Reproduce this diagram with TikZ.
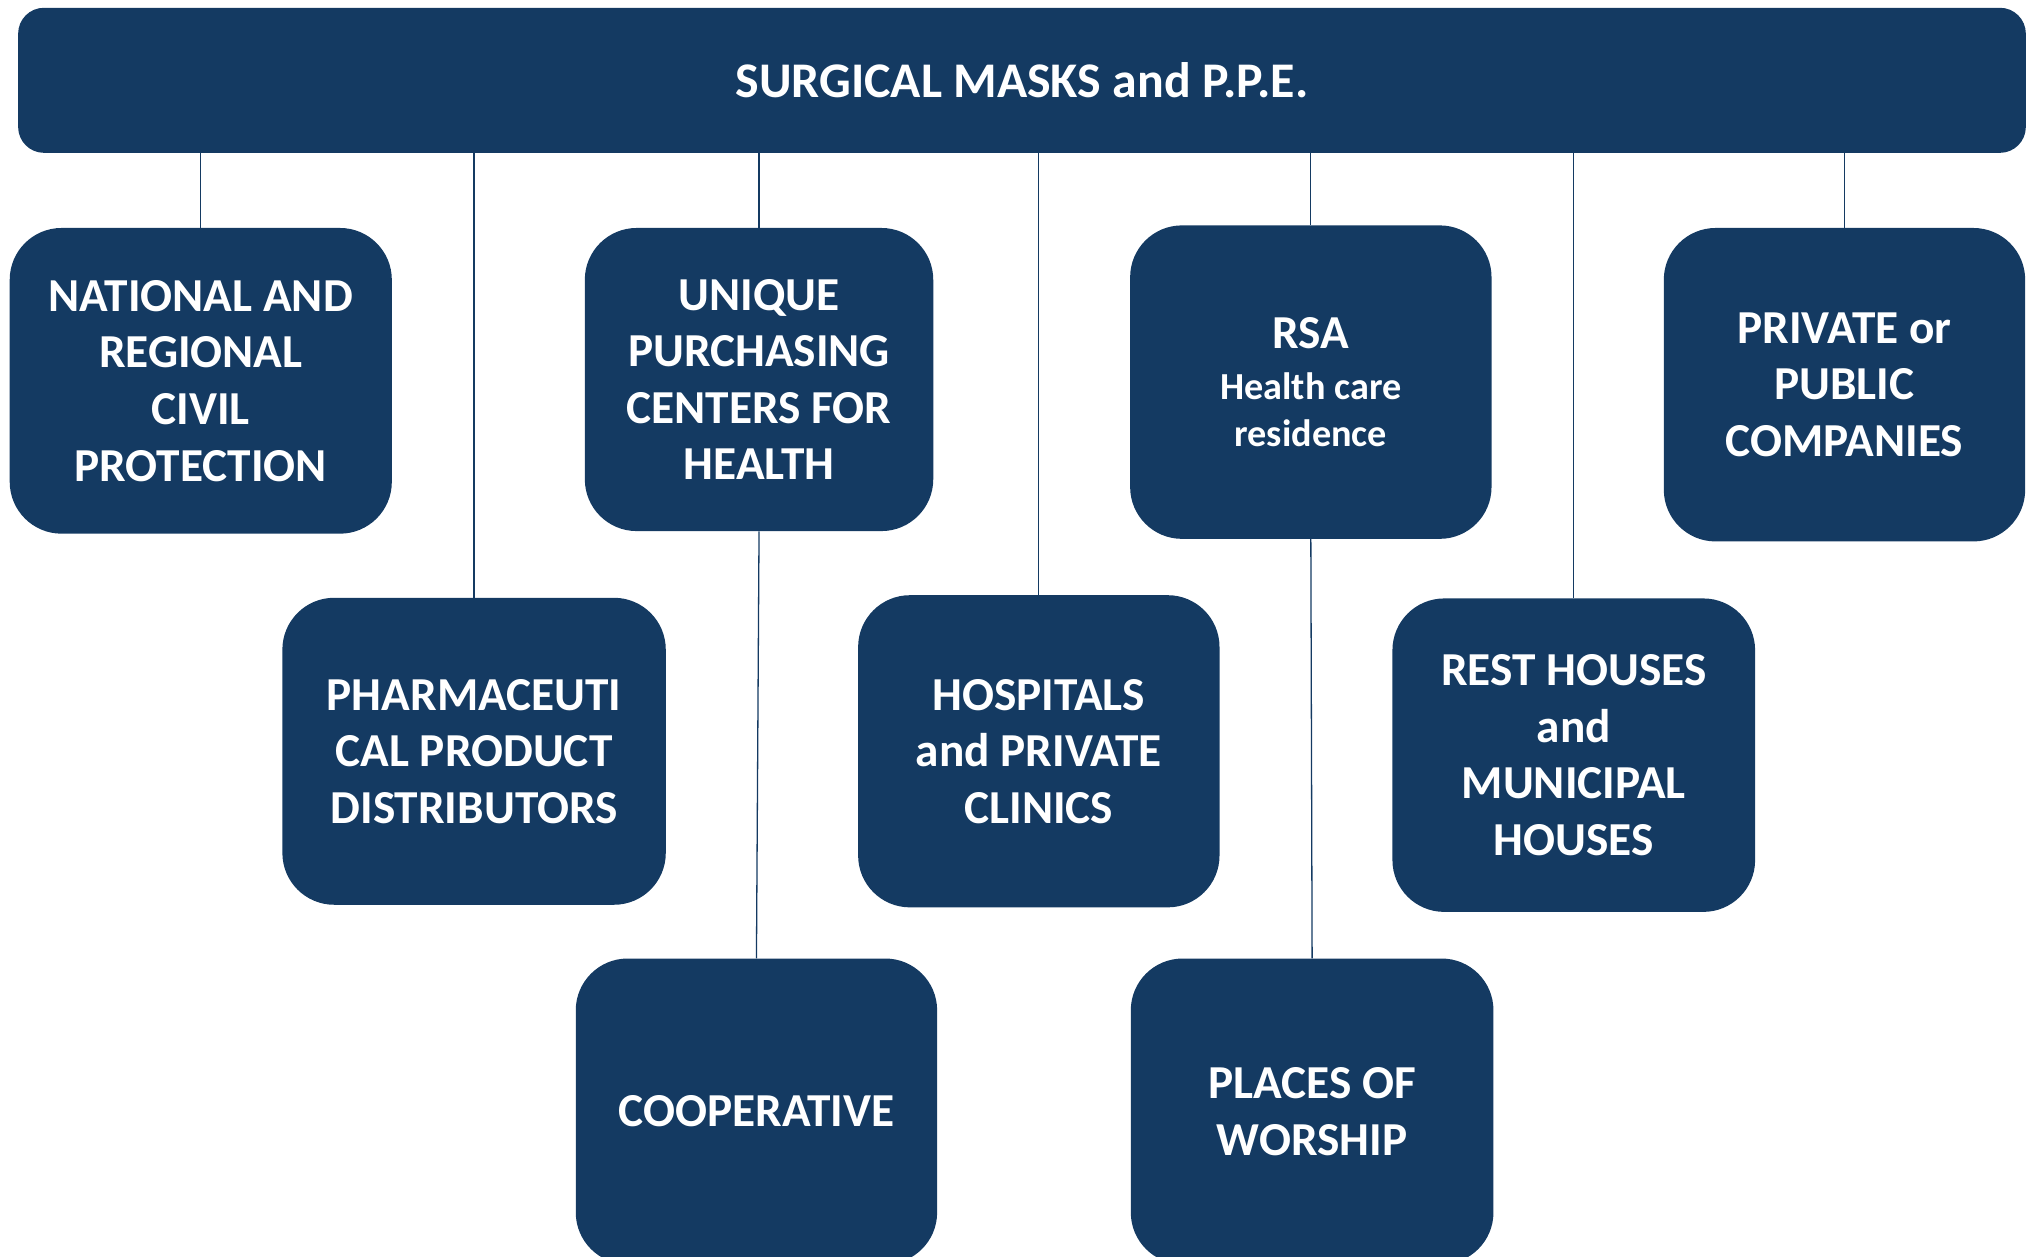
\documentclass[tikz,border=0pt]{standalone}
\usepackage{fontspec}
\setmainfont{Carlito}
\usetikzlibrary{arrows}
\definecolor{navy}{HTML}{143A62}
\newcommand{\subtxt}{\fontsize{29.5}{37}\selectfont}
\tikzstyle{unit}=[rectangle,rounded corners=40pt,fill=navy,text=white,font=\bfseries\fontsize{36.5}{43.7}\selectfont,align=center,inner sep=0pt]
\tikzstyle{head}=[unit,rounded corners=20pt,minimum width=1550pt,minimum height=112pt,font=\bfseries\fontsize{38.5}{44}\selectfont]
\tikzstyle{link}=[draw=navy,line width=1pt]

\begin{document}
\begin{tikzpicture}[x=1pt,y=-1pt]
\useasboundingbox (0,0) rectangle (1568,970);
% First we draw the main bar and the boxes
\node[head] (ppe) at (789,62) {SURGICAL MASKS and P.P.E.};
\foreach \pos/\name/\w/\h/\txt in {{(155,294)/nat/295/236/{NATIONAL AND\\REGIONAL\\CIVIL\\PROTECTION}},
	{(586,293)/upc/269/234/{UNIQUE\\PURCHASING\\CENTERS FOR\\HEALTH}},
	{(1012,295)/rsa/279/242/{RSA\\[-4pt]\subtxt Health care\\[-7pt]\subtxt residence}},
	{(1424,297)/priv/279/242/{PRIVATE or\\PUBLIC\\COMPANIES}},
	{(366,580)/pharma/296/237/{PHARMACEUTI\\CAL PRODUCT\\DISTRIBUTORS}},
	{(802,580)/hosp/279/241/{HOSPITALS\\and PRIVATE\\CLINICS}},
	{(1215,583)/rest/280/242/{REST HOUSES\\and\\MUNICIPAL\\HOUSES}},
	{(584,858)/coop/279/236/{COOPERATIVE}},
	{(1013,858)/worship/280/236/{PLACES OF\\WORSHIP}}}
\node[unit,minimum width=\w pt,minimum height=\h pt] (\name) at \pos {\txt};

% Connect the boxes with lines
\foreach \dest in {nat,pharma,upc,hosp,rsa,rest,priv}
\path[link] (\dest.north) -- (\dest.north |- ppe.south);
\foreach \source/\dest in {upc/coop,rsa/worship}
\path[link] (\source.south) -- (\dest.north);
\end{tikzpicture}
\end{document}
